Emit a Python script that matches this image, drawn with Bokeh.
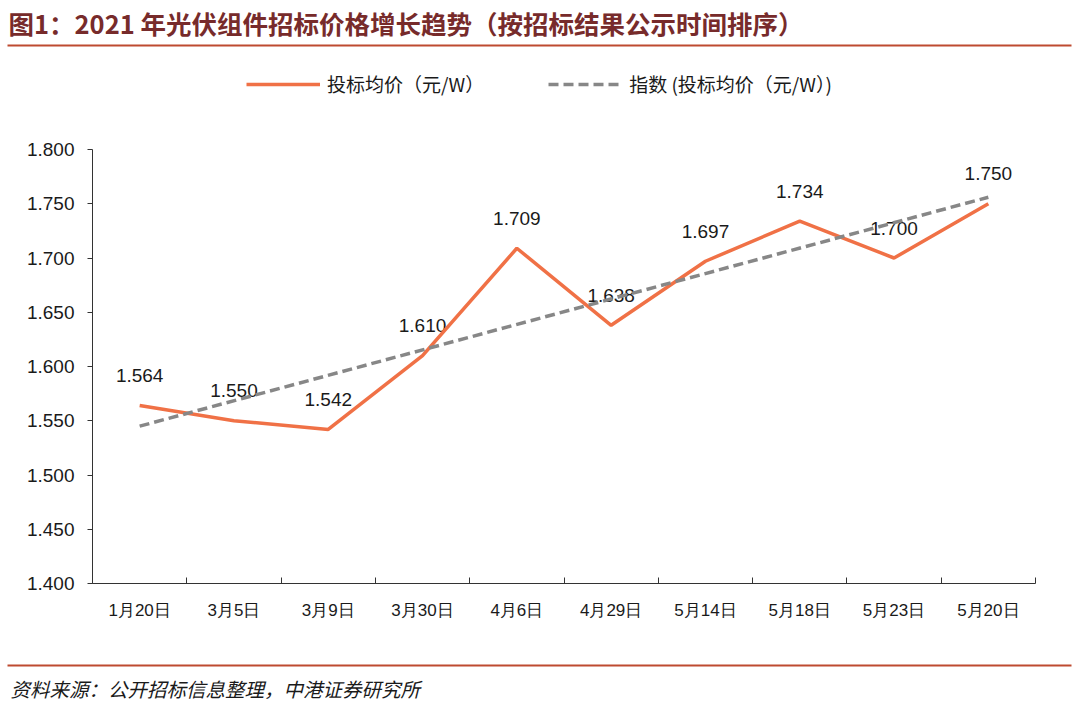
from bokeh.plotting import figure
from bokeh.models import (Range1d, FixedTicker, NumeralTickFormatter, Label, LinearAxis,
                          BoxAnnotation, Legend, LegendItem, ColumnDataSource)
from bokeh.core.properties import value
from bokeh.embed import file_html
from bokeh.resources import INLINE

# ---- data ----
categories = ["1月20日", "3月5日", "3月9日", "3月30日", "4月6日",
              "4月29日", "5月14日", "5月18日", "5月23日", "5月20日"]
avg_price = [1.564, 1.550, 1.542, 1.610, 1.709, 1.638, 1.697, 1.734, 1.700, 1.750]
trend_ends = [1.545, 1.756]          # index (trend) line: start and end value
y_ticks = [1.400, 1.450, 1.500, 1.550, 1.600, 1.650, 1.700, 1.750, 1.800]
price_labels = ["%.3f" % v for v in avg_price]

title_text = "图1：2021 年光伏组件招标价格增长趋势（按招标结果公示时间排序）"
source_text = "资料来源：公开招标信息整理，中港证券研究所"
legend_main = "投标均价（元/W）"
legend_trend = "指数 (投标均价（元/W）)"

# ---- style / layout (pixels) ----
ORANGE = "#F07146"
GRAY = "#878787"
RED = "#BE4B30"
TITLE_RED = "#772B2B"
TXT = "#1a1a1a"
AX = "#333333"
NUM_FONT = "Liberation Sans"
CJK_FONT = "Noto Sans CJK SC"
W, H = 1072, 704
PLOT_L, PLOT_R, PLOT_T, PLOT_B = 92, 1035, 149, 583   # data area in page pixels
LINE_W = 3.5
DASH = "10 5"

n = len(categories)
xs = [i + 0.5 for i in range(n)]
y0, y1 = y_ticks[0], y_ticks[-1]

# ranges chosen so that the data area sits at the pixel box above, frame = whole canvas
px_x = (PLOT_R - PLOT_L) / n
px_y = (PLOT_B - PLOT_T) / (y1 - y0)
x_range = Range1d(-PLOT_L / px_x, n + (W - PLOT_R) / px_x)
y_range = Range1d(y0 - (H - PLOT_B) / px_y, y1 + PLOT_T / px_y)

p = figure(width=W, height=H, output_backend="svg", toolbar_location=None,
           x_range=x_range, y_range=y_range, x_axis_location=None, y_axis_location=None,
           min_border=0)
p.outline_line_color = None
p.grid.grid_line_color = None

# x axis: labels at category centres, ticks at category boundaries
xa = LinearAxis(fixed_location=y0, bounds=(0, n),
                ticker=FixedTicker(ticks=xs, minor_ticks=list(range(n + 1))))
xa.major_label_overrides = {x: c for x, c in zip(xs, categories)}
xa.major_tick_line_color = None
xa.major_tick_in = 0
xa.major_tick_out = 0
xa.minor_tick_in = 6
xa.minor_tick_out = 0
xa.minor_tick_line_color = AX
xa.axis_line_color = AX
xa.major_label_standoff = 17
xa.major_label_text_font = NUM_FONT
xa.major_label_text_font_size = "17px"
xa.major_label_text_color = TXT
p.add_layout(xa, "below")

ya = LinearAxis(fixed_location=0, bounds=(y0, y1), ticker=FixedTicker(ticks=y_ticks),
                formatter=NumeralTickFormatter(format="0.000"))
ya.minor_tick_line_color = None
ya.major_tick_in = 0
ya.major_tick_out = 5
ya.major_tick_line_color = AX
ya.axis_line_color = AX
ya.major_label_standoff = 13
ya.major_label_text_font = NUM_FONT
ya.major_label_text_font_size = "19px"
ya.major_label_text_color = TXT
p.add_layout(ya, "left")

src = ColumnDataSource(dict(x=xs, y=avg_price, lab=price_labels))
p.text(x="x", y="y", text="lab", source=src, text_align="center", text_baseline="middle",
       y_offset=-30, text_font=value(NUM_FONT), text_font_size="19px", text_color=TXT)
main = p.line(x="x", y="y", source=src, line_color=ORANGE, line_width=LINE_W)
trend = p.line(x=[xs[0], xs[-1]], y=trend_ends, line_color=GRAY, line_width=LINE_W,
               line_dash=DASH)

# legend (screen units from bottom-left of canvas)
legend = Legend(items=[LegendItem(label=legend_main, renderers=[main]),
                       LegendItem(label=legend_trend, renderers=[trend])],
                orientation="horizontal", location=(246, H - 97),
                glyph_width=74, glyph_height=20, label_standoff=7, spacing=64,
                padding=0, margin=0, border_line_color=None, background_fill_alpha=0,
                label_text_font=CJK_FONT, label_text_font_size="19px",
                label_text_color=TXT, label_height=20)
p.add_layout(legend)

# title, rules and source note
p.add_layout(Label(x=8, y=H - 22, x_units="screen", y_units="screen", text=title_text,
                   text_font=CJK_FONT, text_font_size="25.5px", text_font_style="bold",
                   text_color=TITLE_RED, text_baseline="middle", text_align="left"))
for yy in (H - 45, H - 665):
    p.add_layout(BoxAnnotation(left=7, right=1071, bottom=yy - 1, top=yy + 1,
                               left_units="screen", right_units="screen",
                               bottom_units="screen", top_units="screen",
                               fill_color=RED, fill_alpha=1, line_color=None))
p.add_layout(Label(x=10, y=H - 688, x_units="screen", y_units="screen", text=source_text,
                   text_font=CJK_FONT, text_font_size="19.5px", text_font_style="italic",
                   text_color=TXT, text_baseline="middle", text_align="left"))

open("out.html", "w").write(file_html(p, INLINE))
